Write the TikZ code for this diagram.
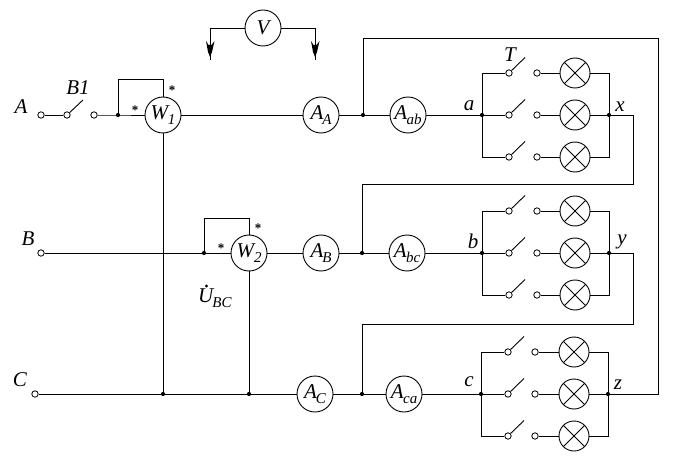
\documentclass[tikz,border=0pt]{standalone}
\usepackage{fontspec}
\setmainfont{Liberation Serif}
\newcommand{\msub}[1]{\raisebox{-5pt}{\fontsize{15}{15}\selectfont #1}}
\tikzset{
  x=1pt,y=-1pt,
  wire/.style={line width=0.9pt,line join=miter},
  meter/.style={circle,draw,line width=0.9pt,minimum size=36pt,inner sep=0pt,font=\fontsize{21}{21}\selectfont\itshape},
  lamp/.style={circle,draw,line width=0.9pt,minimum size=30pt,inner sep=0pt,
    path picture={\draw[line width=0.8pt] (path picture bounding box.north west)--(path picture bounding box.south east)
      (path picture bounding box.north east)--(path picture bounding box.south west);}},
  term/.style={circle,draw,fill=white,line width=0.8pt,minimum size=6.4pt,inner sep=0pt},
  junc/.style={circle,fill=black,minimum size=4.2pt,inner sep=0pt},
  lab/.style={inner sep=0pt,font=\fontsize{21}{21}\selectfont\itshape},
  star/.style={inner sep=0pt,font=\fontsize{13}{13}\selectfont\bfseries},
  tip/.style={fill=black,draw=none}
}
\begin{document}
\begin{tikzpicture}
\useasboundingbox (0,0) rectangle (674,457);
% free ends and corners
\coordinate (bladeB) at (83,100);
\coordinate (vl) at (210,60);
\coordinate (vr) at (315,60);
\coordinate (lp1) at (118,79);
\coordinate (lp1b) at (163,79);
\coordinate (lp2) at (204,218);
\coordinate (lp2b) at (249,218);
\coordinate (top1) at (363,38);
\coordinate (top2) at (658,38);
\coordinate (top3) at (658,394);
\coordinate (xr) at (633,115);
\coordinate (xd) at (633,184);
\coordinate (xl) at (362,184);
\coordinate (yr) at (633,253);
\coordinate (yd) at (633,324);
\coordinate (yl) at (362,324);
% meters
\node[meter] (V) at (263,28) {V};
\node[meter] (W1) at (163,115) {W\msub{1}};
\node[meter] (W2) at (249,253) {W\msub{2}};
\node[meter] (AA) at (321,115) {A\kern-1pt\msub{A}};
\node[meter] (AB) at (321,253) {A\kern-1pt\msub{B}};
\node[meter] (AC) at (315,394) {A\kern-1pt\msub{C}};
\node[meter] (Aab) at (408,115) {A\kern-0.5pt\msub{ab}};
\node[meter] (Abc) at (407,253) {A\kern-0.5pt\msub{bc}};
\node[meter] (Aca) at (404,394) {A\kern-0.5pt\msub{ca}};
% terminals
\node[term] (tA) at (41,115) {};
\node[term] (tB) at (41,253) {};
\node[term] (tC) at (35,394) {};
\node[term] (s1) at (67,115) {};
\node[term] (s2) at (94,115) {};
% junction positions
\coordinate (jw1) at (118,115);
\coordinate (jw2) at (204,253);
\coordinate (ja) at (363,115);
\coordinate (jb) at (362,253);
\coordinate (jc) at (362,394);
\coordinate (c1) at (163,394);
\coordinate (c2) at (249,394);
% lamp banks: name / bus-left x / switch x / contact x / lamp x / bus-right x / mid y
\foreach \n/\xa/\xb/\xc/\xd/\xe/\ym in {a/482/509/537/575/609/115,b/482/509/537/575/609/253,c/481/508/535/574/608/394}{
  \pgfmathsetmacro{\yu}{\ym-42}
  \pgfmathsetmacro{\yl}{\ym+42}
  \coordinate (L\n) at (\xa,\ym);
  \coordinate (R\n) at (\xe,\ym);
  \foreach \r/\yy in {1/\yu,2/\ym,3/\yl}{
    \node[term] (sa\n\r) at (\xb,\yy) {};
    \node[term] (sb\n\r) at (\xc,\yy) {};
    \node[lamp] (la\n\r) at (\xd,\yy) {};
    \draw[wire] (sa\n\r) -- ++(16,-15.5);
    \draw[wire] (sb\n\r) -- (la\n\r);
  }
  \draw[wire] (L\n) |- (sa\n1);
  \draw[wire] (L\n) -- (sa\n2);
  \draw[wire] (L\n) |- (sa\n3);
  \draw[wire] (la\n1) -| (R\n);
  \draw[wire] (la\n2) -- (R\n);
  \draw[wire] (la\n3) -| (R\n);
  \node[junc] at (L\n) {};
  \node[junc] at (R\n) {};
}
% voltmeter
\draw[wire] (V.west) -| (vl);
\draw[wire] (V.east) -| (vr);
\fill[tip] (206,41) -- (208.5,45) -- (211.5,45) -- (214.5,41) -- (212,52) -- (210,57) -- (208,52) -- cycle;
\fill[tip] (311,41) -- (313.5,45) -- (316.5,45) -- (319.5,41) -- (317,52) -- (315,57) -- (313,52) -- cycle;
% line A
\draw[wire] (tA) -- (s1);
\draw[wire] (s1) -- (bladeB);
\draw[wire] (s2) -- (jw1) -- (W1);
\draw[wire] (jw1) -- (lp1) -- (lp1b) -- (W1.north);
\draw[wire] (W1) -- (AA);
\draw[wire] (AA) -- (ja);
\draw[wire] (ja) -- (Aab);
\draw[wire] (Aab) -- (La);
% line B
\draw[wire] (tB) -- (jw2);
\draw[wire] (jw2) -- (W2);
\draw[wire] (jw2) -- (lp2) -- (lp2b) -- (W2.north);
\draw[wire] (W2) -- (AB);
\draw[wire] (AB) -- (jb);
\draw[wire] (jb) -- (Abc);
\draw[wire] (Abc) -- (Lb);
% line C
\draw[wire] (tC) -- (c1);
\draw[wire] (c1) -- (c2);
\draw[wire] (c2) -- (AC);
\draw[wire] (AC) -- (jc);
\draw[wire] (jc) -- (Aca);
\draw[wire] (Aca) -- (Lc);
% voltage coils
\draw[wire] (W1.south) -- (c1);
\draw[wire] (W2.south) -- (c2);
% delta links
\draw[wire] (ja) -- (top1) -- (top2) -- (top3) -- (Rc);
\draw[wire] (Ra) -- (xr) -- (xd) -- (xl) -- (jb);
\draw[wire] (Rb) -- (yr) -- (yd) -- (yl) -- (jc);
% junction dots
\foreach \j in {jw1,jw2,ja,jb,jc,c1,c2}{\node[junc] at (\j) {};}
% labels
\node[lab] (nA) at (21,107) {A};
\node[lab] (nB) at (28,239) {B};
\node[lab] (nC) at (20,380) {C};
\node[lab] (nB1) at (78,88) {B1};
\node[lab] (nT) at (510,55) {T};
\node[lab] (na) at (469,106) {a};
\node[lab] (nb) at (473,241) {b};
\node[lab] (nc) at (469,382) {c};
\node[lab] (nx) at (620,107) {x};
\node[lab] (ny) at (622,242) {y};
\node[lab] (nz) at (618,385) {z};
\node[lab,anchor=west] (nU) at (198,298) {U\kern-1pt\msub{BC}};
\fill (206.5,286) circle (1.7);
\node[star] (st1) at (135,110) {*};
\node[star] (st2) at (172,90) {*};
\node[star] (st3) at (221,248) {*};
\node[star] (st4) at (258,228) {*};
\end{tikzpicture}
\end{document}
